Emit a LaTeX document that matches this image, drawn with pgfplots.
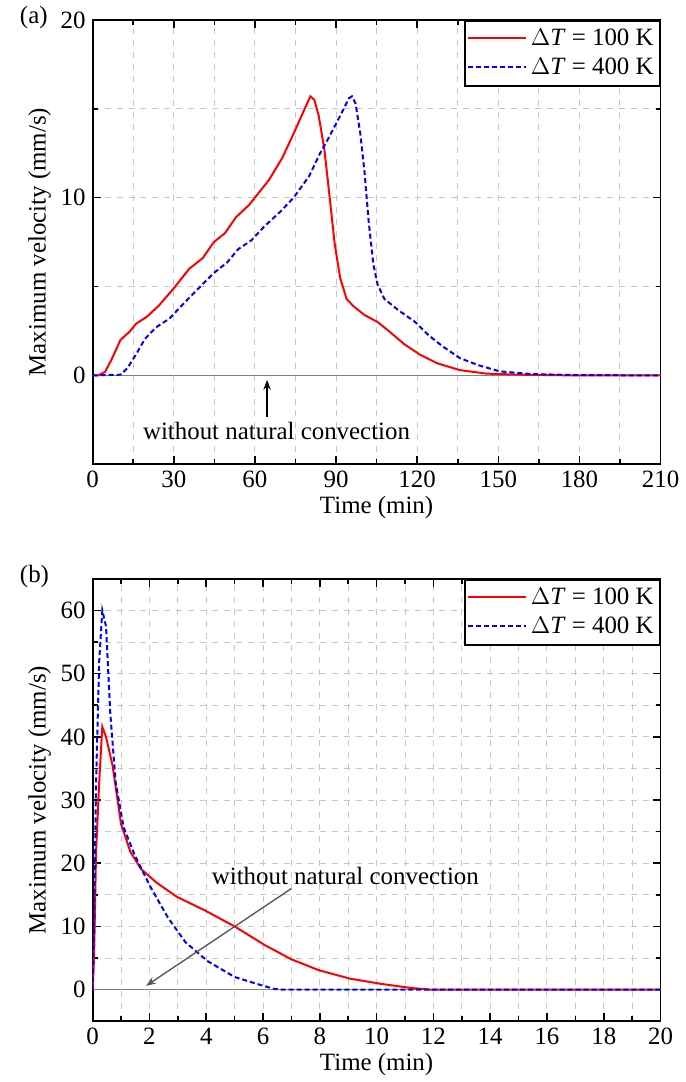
\documentclass[border=0pt]{standalone}
\usepackage{fontspec}
\setmainfont{Liberation Serif}
\usepackage{pgfplots}
\pgfplotsset{compat=1.18}
\usetikzlibrary{arrows.meta}

\newcommand{\figfont}{\fontsize{12.5}{14}\selectfont}

\pgfplotsset{
  velstyle/.style={
    scale only axis, width=285pt, height=223pt,
    axis line style={line width=0.9pt},
    tick style={black, line width=0.8pt},
    major tick length=4pt, minor tick length=2.5pt,
    grid=both,
    grid style={dashed, gray!45, line width=0.5pt},
    minor grid style={dashed, gray!45, line width=0.5pt},
    major grid style={dashed, gray!45, line width=0.5pt},
    ticklabel style={font=\figfont},
    label style={font=\figfont},
    /pgf/number format/assume math mode=true,
    legend style={at={(1,1)}, anchor=north east, draw=black, line width=0.9pt,
      font=\figfont, row sep=1pt, inner xsep=1pt, inner ysep=2pt},
    legend cell align=left,
    legend image code/.code={\draw[#1] (0pt,0.3pt) -- (29pt,0.3pt);},
    xlabel={Time (min)},
    ylabel={Maximum velocity (mm/s)},
    xlabel style={yshift=3pt},
    ylabel style={yshift=-2pt},
  },
  red100/.style={color=red, line width=1pt},
  blue400/.style={color=blue, line width=1pt, dash pattern=on 2.5pt off 1.5pt},
}

\begin{document}
\begin{tikzpicture}
% ---------- (a) ----------
\begin{axis}[velstyle, name=pa, at={(0pt,0pt)}, anchor=north west,
    xmin=0, xmax=210, ymin=-5, ymax=20,
    xtick={0,30,...,210}, minor xtick={15,45,...,195},
    ytick={0,10,20}, minor ytick={5,15},
  ]
  \addplot[gray, line width=0.8pt, forget plot] coordinates {(0,0) (210,0)};
  \addplot[red100] coordinates {
    (0,0) (2,0) (4.6,0.2) (7,0.9) (10.3,2.0) (13.6,2.45) (16,2.9) (20,3.3)
    (24.3,3.9) (30,4.9) (35.7,6.0) (40.7,6.6) (44.8,7.5) (48.9,8.0)
    (53,8.9) (57.9,9.6) (60.3,10.06) (65.2,11.0) (70,12.2) (74.3,13.6)
    (78.4,15.0) (80.5,15.7) (82,15.5) (83.6,14.6) (85.7,12.7) (87.4,10.35)
    (89.5,7.4) (91.5,5.5) (93.9,4.3) (96.4,3.9) (100.5,3.4) (105.4,3.0)
    (109.5,2.5) (115.2,1.76) (121,1.17) (127.5,0.68) (135.7,0.3)
    (145.6,0.1) (158.7,0.04) (178,0) (210,0)
  };
  \addlegendentry{$\Delta$\textit{T} = 100 K}
  \addplot[blue400] coordinates {
    (0,0) (10.3,0.04) (12.8,0.4) (16,1.17) (19.3,2.05) (23.4,2.7) (28.4,3.2)
    (34,4.1) (39.8,5.0) (44.8,5.76) (49.7,6.35) (53.8,7.1) (58.7,7.6)
    (63.6,8.4) (69.3,9.2) (74.3,10.0) (80,11.2) (84.1,12.5) (87.4,13.4)
    (91.5,14.6) (94.8,15.6) (95.9,15.7) (97.2,15.3) (98.9,13.7) (100.5,11.5)
    (102.1,8.6) (103.8,6.25) (105.4,5.1) (107.9,4.3) (112.8,3.7) (119.3,3.0)
    (124.3,2.25) (129.2,1.66) (135.7,0.98) (142.3,0.59) (150.5,0.23)
    (162,0.08) (178,0.02) (210,0)
  };
  \addlegendentry{$\Delta$\textit{T} = 400 K}
  \draw[-{Stealth[length=5pt]}, line width=0.7pt] (axis cs:64.5,-2.35) -- (axis cs:64.5,-0.25);
  \node[font=\figfont] at (axis cs:68,-3.1) {without natural convection};
\end{axis}
\node[font=\figfont, anchor=west] at ([xshift=-40pt,yshift=1pt]pa.north west) {(a)};
% ---------- (b) ----------
\begin{axis}[velstyle, name=pb, at={(0pt,-280.5pt)}, anchor=north west,
    height=222pt,
    xmin=0, xmax=20, ymin=-5, ymax=65,
    xtick={0,2,...,20}, minor xtick={1,3,...,19},
    ytick={0,10,...,60}, minor ytick={5,15,...,55},
  ]
  \addplot[gray, line width=0.8pt, forget plot] coordinates {(0,0) (20,0)};
  \addplot[red100] coordinates {
    (0,0) (0.05,5.3) (0.12,21.8) (0.23,32.8) (0.34,41.6) (0.47,40) (0.7,35.5)
    (1.0,26.2) (1.33,21.8) (1.7,19.1) (2.26,16.9) (2.96,14.7) (3.97,12.5)
    (5.0,10) (6.08,7.0) (7.0,4.8) (7.95,3.1) (9.04,1.76) (10.13,0.93)
    (11.2,0.27) (11.9,0) (20,0)
  };
  \addlegendentry{$\Delta$\textit{T} = 100 K}
  \addplot[blue400] coordinates {
    (0,0) (0.05,10.8) (0.12,32.8) (0.23,52) (0.34,60) (0.47,57.5) (0.62,43.8)
    (0.81,32.8) (1.09,25.7) (1.48,21.3) (2.03,16.3) (2.65,11.4) (3.27,7.5)
    (4.05,4.5) (5.0,2.0) (5.77,0.93) (6.4,0.1) (6.7,0) (20,0)
  };
  \addlegendentry{$\Delta$\textit{T} = 400 K}
  \draw[-{Stealth[length=5pt]}, line width=0.7pt, gray!70!black] (axis cs:7.0,16.0) -- (axis cs:1.88,0.6);
  \node[font=\figfont] at (axis cs:8.9,18) {without natural convection};
\end{axis}
\node[font=\figfont, anchor=west] at ([xshift=-40pt,yshift=1pt]pb.north west) {(b)};
% page margins as in the reference
\path (pa.north west) ++(-46.5pt,10pt) coordinate (tl);
\path (pa.north east) ++(12pt,0pt) coordinate (tr);
\path (tl) (tr);
\end{tikzpicture}
\end{document}
